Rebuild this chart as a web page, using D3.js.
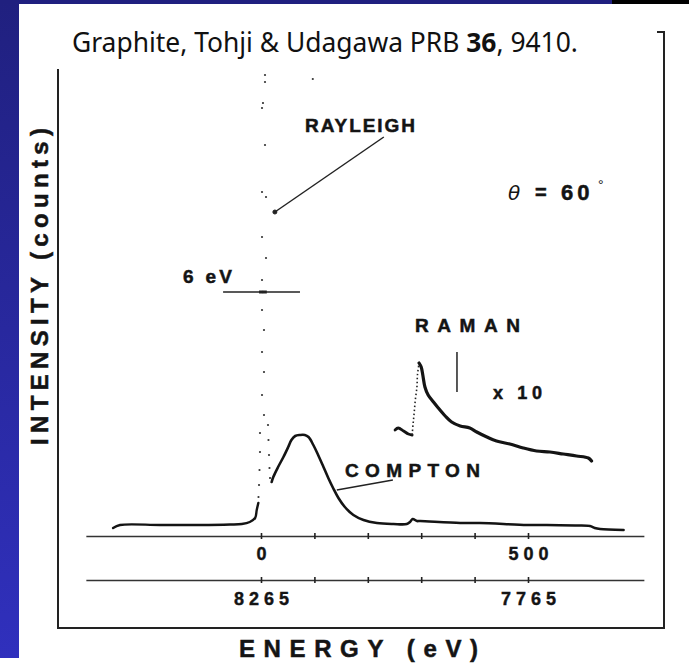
<!DOCTYPE html>
<html><head><meta charset="utf-8">
<script src="https://cdn.jsdelivr.net/npm/d3@7"></script>
<style>html,body{margin:0;padding:0;background:#fff;overflow:hidden}</style>
</head><body>
<svg id="c" width="689" height="670"></svg>
<script>
// ---------- DATA ----------
// energy loss (eV) ticks for the upper axis, photon energy (eV) for the lower axis
const lossTicks = [0, 100, 200, 300, 400, 500];
const lossTickLabels = ["0", "", "", "", "", "500"];
const photonTicks = [8265, 8165, 8065, 7965, 7865, 7765];
const photonTickLabels = ["8265", "", "", "", "", "7765"];

// baseline left of the elastic line [energy loss eV, intensity]
const baselineLeft = [[-277,8],[-264,11],[-189,11],[-114,11],[-58,11.5],[-36,12],[-21,14],[-11,18],[-8,26],[-5,33]];
// Compton band and high-loss tail
const comptonCurve = [[20,54],[23,59],[32,69],[42,79],[51,89],[57,96],[64,100],[73,101],[82,101],[89,99],[98,91],[107,81],[117,69],[126,58],[135,48],[145,38],[157,29],[173,21],[192,16],[217,13],[248,12],[273,12],[279,14],[284,17],[292,15],[298,15],[373,13],[410,13],[498,11],[535,11],[588,10.5],[616,10],[625,8],[635,7],[679,6]];
// Rayleigh (elastic) peak, off scale: scattered dots
const rayleighDots = [[7.5,461],[7.5,454],[3.7,433],[1.9,428],[7.5,391],[1.9,344],[9.4,339],[1.9,299],[9.4,278],[1.9,256],[1.9,226],[5.6,206],[1.9,184],[5.6,164],[1.9,141],[5.6,121],[-1.9,103],[-1.9,84],[-2.8,66],[-3.7,51],[-4.7,39],[13.1,111],[14,96],[15,81],[15.9,68],[16.9,58],[97,457]];
// Raman spectrum x10
const ramanPre = [[251,106],[257,108],[267,105],[276,102],[283,101]];
const ramanEdge = [[283,101],[285,113],[287,124],[289,136],[292,149],[293,161],[296,173]];
const ramanTail = [[296,173],[300,169],[303,161],[307,149],[313,141],[323,134],[332,128],[345,120],[357,114],[373,110],[391,108],[404,104],[423,99],[441,95],[466,92],[491,88],[516,85],[541,84],[566,82],[591,80],[613,78],[619,75]];
// annotation anchors [energy loss, intensity]
const rayleighLeader = [[26,324],[230,399]];
const comptonLeader = [[142,46],[247,56]];
const ramanArrow = [[367,184],[367,144]];
const resolutionBar = [[-71,244],[73,244]];
const resolutionMarks = [2, 9];

// ---------- CHART ----------
const svg = d3.select("#c");
const defs = svg.append("defs");
const lg = defs.append("linearGradient").attr("id","bg").attr("x1",0).attr("y1",0).attr("x2",0).attr("y2",1);
lg.append("stop").attr("offset","0%").attr("stop-color","#20207f");
lg.append("stop").attr("offset","100%").attr("stop-color","#3030bd");
svg.append("rect").attr("x",0).attr("y",0).attr("width",19).attr("height",658).attr("fill","url(#bg)");
svg.append("rect").attr("x",0).attr("y",0).attr("width",612).attr("height",4).attr("fill","#20207f");
svg.append("rect").attr("x",612).attr("y",0).attr("width",77).attr("height",4).attr("fill","#000");

const x = d3.scaleLinear().domain([0, 500]).range([261, 528]);
const y = d3.scaleLinear().domain([0, 470]).range([536, 66]);
const xAxisScale = d3.scaleLinear().domain([-328, 717]).range([x(-328), x(717)]);
const photonScale = d3.scaleLinear().domain([8265 + 328, 8265 - 717]).range([x(-328), x(717)]);

const ink = "#141414";

// frame
svg.append("path").attr("d","M58,69 L58,628 L664,628 L664,32 L657,32")
  .attr("fill","none").attr("stroke","#222").attr("stroke-width",2);

// title
const title = svg.append("text").attr("x",72).attr("y",52)
  .attr("font-family","'Noto Sans', 'Open Sans', sans-serif").attr("font-size",25).attr("fill","#111");
title.append("tspan").text("Graphite, Tohji & Udagawa PRB ");
title.append("tspan").attr("font-weight","bold").text("36");
title.append("tspan").text(", 9410.");
const tw = title.node().getComputedTextLength();
title.attr("font-size", 25 * 506 / tw);

const bold = "'Liberation Sans', Arial, sans-serif";

// axes
function drawAxis(scale, yPos, ticks, labels, ty) {
  const g = svg.append("g").attr("transform",`translate(0,${yPos})`)
    .call(d3.axisBottom(scale).tickValues(ticks).tickFormat((d,i)=>labels[i]).tickSizeOuter(0));
  g.select(".domain").attr("stroke","#333").attr("stroke-width",1.6);
  g.selectAll(".tick line").attr("y1",-3).attr("y2",3).attr("stroke","#222").attr("stroke-width",1.6);
  g.selectAll(".tick text").attr("y",ty).attr("dy",0).attr("dx",2.5)
    .attr("font-family",bold).attr("font-weight","bold")
    .attr("font-size",18).attr("letter-spacing",5).attr("fill",ink)
    .attr("stroke",ink).attr("stroke-width",0.4);
}
drawAxis(xAxisScale, 536, lossTicks, lossTickLabels, 24);
drawAxis(photonScale, 580, photonTicks, photonTickLabels, 25);

function label(txt, x0, y0, size, len) {
  const t = svg.append("text").attr("x",x0).attr("y",y0).attr("font-family",bold)
    .attr("font-weight","bold").attr("font-size",size).attr("fill",ink)
    .attr("stroke",ink).attr("stroke-width",0.5).text(txt);
  if (len) t.attr("textLength",len).attr("lengthAdjust","spacing");
  return t;
}
label("ENERGY (eV)", 239, 657, 24, 239);
svg.append("text").attr("transform","translate(48,445) rotate(-90)")
  .attr("font-family",bold).attr("font-weight","bold").attr("font-size",24).attr("fill",ink)
  .attr("stroke",ink).attr("stroke-width",0.5)
  .attr("textLength",317).attr("lengthAdjust","spacing").text("INTENSITY (counts)");

// curves
const line = d3.line().x(d=>x(d[0])).y(d=>y(d[1])).curve(d3.curveCatmullRom.alpha(0.5));
svg.append("path").datum(baselineLeft).attr("d",line).attr("fill","none").attr("stroke",ink).attr("stroke-width",2.4).attr("stroke-linecap","round");
svg.append("path").datum(comptonCurve).attr("d",line).attr("fill","none").attr("stroke",ink).attr("stroke-width",2.6).attr("stroke-linecap","round").attr("stroke-linejoin","round");
svg.append("g").selectAll("circle").data(rayleighDots).join("circle")
  .attr("cx",d=>x(d[0])).attr("cy",d=>y(d[1])).attr("r",1.1).attr("fill","#333");
svg.append("path").datum(ramanPre).attr("d",line).attr("fill","none").attr("stroke",ink).attr("stroke-width",2.8).attr("stroke-linecap","round");
svg.append("path").datum(ramanEdge).attr("d",line).attr("fill","none").attr("stroke","#222").attr("stroke-width",1.6).attr("stroke-dasharray","1.5,2.5");
svg.append("path").datum(ramanTail).attr("d",line).attr("fill","none").attr("stroke",ink).attr("stroke-width",3.2).attr("stroke-linecap","round").attr("stroke-linejoin","round");

// annotations
const ann = svg.append("g").attr("stroke","#222").attr("fill","none");
const sline = d3.line().x(d=>x(d[0])).y(d=>y(d[1]));
ann.append("path").datum(rayleighLeader).attr("d",sline).attr("stroke-width",1.5);
ann.append("circle").attr("cx",x(rayleighLeader[0][0])).attr("cy",y(rayleighLeader[0][1])).attr("r",2).attr("fill","#222");
ann.append("path").datum(comptonLeader).attr("d",sline).attr("stroke-width",1.5);
ann.append("path").datum(ramanArrow).attr("d",sline).attr("stroke-width",1.5);
ann.append("path").datum(resolutionBar).attr("d",sline).attr("stroke-width",1.4);
resolutionMarks.forEach(e=>{
  ann.append("line").attr("x1",x(e)-3).attr("x2",x(e)+1).attr("y1",y(244)).attr("y2",y(244)).attr("stroke-width",3);
});

label("RAYLEIGH", 305, 132, 19, 110);
label("RAMAN", 415, 332, 19, 105);
label("COMPTON", 345, 477, 19, 135);
label("x 10", 493, 399, 18, 49);
label("6 eV", 183, 283, 19, 49);
svg.append("text").attr("x",508).attr("y",200).attr("font-family","'DejaVu Sans', sans-serif")
  .attr("font-style","italic").attr("font-size",20).attr("fill",ink).text("θ");
label("=", 535, 199, 20);
label("60", 561, 200, 22).attr("letter-spacing",4);
svg.append("text").attr("x",598).attr("y",190).attr("font-family",bold).attr("font-size",14).attr("fill",ink).text("°");
</script>
</body></html>
